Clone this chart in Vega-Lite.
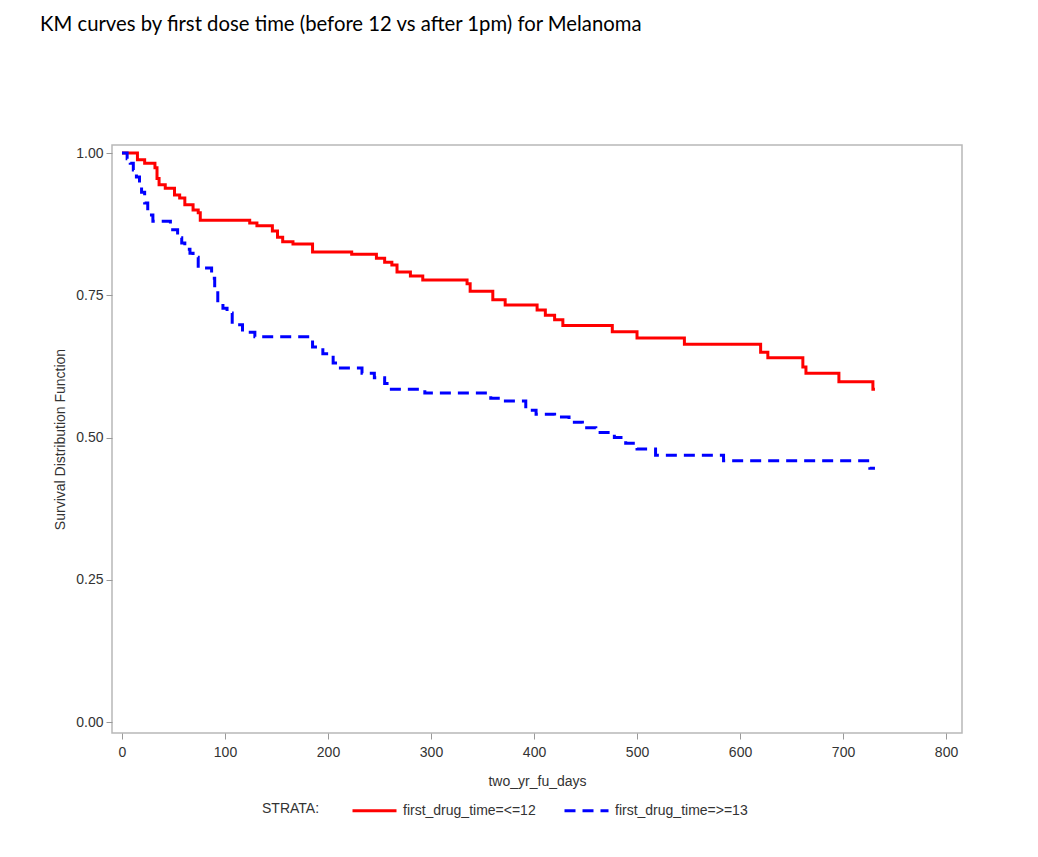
{
  "$schema": "https://vega.github.io/schema/vega-lite/v6.json",
  "width": 850,
  "height": 588,
  "autosize": {"type": "none"},
  "padding": {"left": 112, "top": 145, "right": 76, "bottom": 124},
  "background": "white",
  "title": {
    "text": "KM curves by first dose time (before 12 vs after 1pm) for Melanoma",
    "anchor": "start",
    "frame": "group",
    "dx": -72,
    "offset": 110,
    "font": "Lato",
    "fontSize": 20.3,
    "fontWeight": "normal",
    "color": "#000000"
  },
  "config": {
    "view": {"stroke": "#b8b8b8", "strokeWidth": 1.5},
    "axis": {
      "labelFont": "Liberation Sans",
      "titleFont": "Liberation Sans",
      "labelFontSize": 14,
      "titleFontSize": 14,
      "labelColor": "#333333",
      "titleColor": "#333333",
      "titleFontWeight": "normal",
      "tickColor": "#999999",
      "domain": false,
      "grid": false,
      "tickSize": 6
    },
    "legend": {
      "labelFont": "Liberation Sans",
      "titleFont": "Liberation Sans",
      "labelFontSize": 14,
      "titleFontSize": 14,
      "titleFontWeight": "normal",
      "labelColor": "#333333",
      "titleColor": "#333333"
    }
  },
  "data": {
    "values": [
      {"strata": "first_drug_time=<=12", "days": 0, "surv": 1.0},
      {"strata": "first_drug_time=<=12", "days": 15, "surv": 0.988},
      {"strata": "first_drug_time=<=12", "days": 22, "surv": 0.982},
      {"strata": "first_drug_time=<=12", "days": 32, "surv": 0.974},
      {"strata": "first_drug_time=<=12", "days": 34, "surv": 0.955},
      {"strata": "first_drug_time=<=12", "days": 36, "surv": 0.944},
      {"strata": "first_drug_time=<=12", "days": 42, "surv": 0.938},
      {"strata": "first_drug_time=<=12", "days": 51, "surv": 0.926},
      {"strata": "first_drug_time=<=12", "days": 56, "surv": 0.921},
      {"strata": "first_drug_time=<=12", "days": 61, "surv": 0.909},
      {"strata": "first_drug_time=<=12", "days": 69, "surv": 0.9},
      {"strata": "first_drug_time=<=12", "days": 74, "surv": 0.895},
      {"strata": "first_drug_time=<=12", "days": 76, "surv": 0.882},
      {"strata": "first_drug_time=<=12", "days": 124, "surv": 0.877},
      {"strata": "first_drug_time=<=12", "days": 131, "surv": 0.872},
      {"strata": "first_drug_time=<=12", "days": 146, "surv": 0.863},
      {"strata": "first_drug_time=<=12", "days": 151, "surv": 0.852},
      {"strata": "first_drug_time=<=12", "days": 156, "surv": 0.844},
      {"strata": "first_drug_time=<=12", "days": 166, "surv": 0.84},
      {"strata": "first_drug_time=<=12", "days": 185, "surv": 0.826},
      {"strata": "first_drug_time=<=12", "days": 223, "surv": 0.822},
      {"strata": "first_drug_time=<=12", "days": 247, "surv": 0.815},
      {"strata": "first_drug_time=<=12", "days": 255, "surv": 0.808},
      {"strata": "first_drug_time=<=12", "days": 262, "surv": 0.803},
      {"strata": "first_drug_time=<=12", "days": 267, "surv": 0.791},
      {"strata": "first_drug_time=<=12", "days": 280, "surv": 0.784},
      {"strata": "first_drug_time=<=12", "days": 292, "surv": 0.777},
      {"strata": "first_drug_time=<=12", "days": 335, "surv": 0.77},
      {"strata": "first_drug_time=<=12", "days": 338, "surv": 0.757},
      {"strata": "first_drug_time=<=12", "days": 360, "surv": 0.742},
      {"strata": "first_drug_time=<=12", "days": 372, "surv": 0.733},
      {"strata": "first_drug_time=<=12", "days": 403, "surv": 0.724},
      {"strata": "first_drug_time=<=12", "days": 411, "surv": 0.715},
      {"strata": "first_drug_time=<=12", "days": 420, "surv": 0.707},
      {"strata": "first_drug_time=<=12", "days": 428, "surv": 0.697},
      {"strata": "first_drug_time=<=12", "days": 476, "surv": 0.686},
      {"strata": "first_drug_time=<=12", "days": 500, "surv": 0.675},
      {"strata": "first_drug_time=<=12", "days": 546, "surv": 0.664},
      {"strata": "first_drug_time=<=12", "days": 620, "surv": 0.65},
      {"strata": "first_drug_time=<=12", "days": 627, "surv": 0.64},
      {"strata": "first_drug_time=<=12", "days": 661, "surv": 0.624},
      {"strata": "first_drug_time=<=12", "days": 664, "surv": 0.613},
      {"strata": "first_drug_time=<=12", "days": 696, "surv": 0.598},
      {"strata": "first_drug_time=<=12", "days": 729, "surv": 0.585},
      {"strata": "first_drug_time=<=12", "days": 731, "surv": 0.585},
      {"strata": "first_drug_time=>=13", "days": 0, "surv": 1.0},
      {"strata": "first_drug_time=>=13", "days": 5, "surv": 0.99},
      {"strata": "first_drug_time=>=13", "days": 8, "surv": 0.982},
      {"strata": "first_drug_time=>=13", "days": 11, "surv": 0.97},
      {"strata": "first_drug_time=>=13", "days": 14, "surv": 0.958},
      {"strata": "first_drug_time=>=13", "days": 17, "surv": 0.945},
      {"strata": "first_drug_time=>=13", "days": 19, "surv": 0.931},
      {"strata": "first_drug_time=>=13", "days": 22, "surv": 0.912},
      {"strata": "first_drug_time=>=13", "days": 25, "surv": 0.891},
      {"strata": "first_drug_time=>=13", "days": 30, "surv": 0.88},
      {"strata": "first_drug_time=>=13", "days": 47, "surv": 0.865},
      {"strata": "first_drug_time=>=13", "days": 54, "surv": 0.851},
      {"strata": "first_drug_time=>=13", "days": 58, "surv": 0.842},
      {"strata": "first_drug_time=>=13", "days": 61, "surv": 0.831},
      {"strata": "first_drug_time=>=13", "days": 66, "surv": 0.824},
      {"strata": "first_drug_time=>=13", "days": 69, "surv": 0.817},
      {"strata": "first_drug_time=>=13", "days": 74, "surv": 0.798},
      {"strata": "first_drug_time=>=13", "days": 87, "surv": 0.78},
      {"strata": "first_drug_time=>=13", "days": 90, "surv": 0.759},
      {"strata": "first_drug_time=>=13", "days": 93, "surv": 0.736},
      {"strata": "first_drug_time=>=13", "days": 98, "surv": 0.727},
      {"strata": "first_drug_time=>=13", "days": 102, "surv": 0.719},
      {"strata": "first_drug_time=>=13", "days": 107, "surv": 0.698},
      {"strata": "first_drug_time=>=13", "days": 117, "surv": 0.685},
      {"strata": "first_drug_time=>=13", "days": 129, "surv": 0.677},
      {"strata": "first_drug_time=>=13", "days": 185, "surv": 0.659},
      {"strata": "first_drug_time=>=13", "days": 195, "surv": 0.647},
      {"strata": "first_drug_time=>=13", "days": 205, "surv": 0.631},
      {"strata": "first_drug_time=>=13", "days": 210, "surv": 0.622},
      {"strata": "first_drug_time=>=13", "days": 233, "surv": 0.613},
      {"strata": "first_drug_time=>=13", "days": 245, "surv": 0.605},
      {"strata": "first_drug_time=>=13", "days": 255, "surv": 0.595},
      {"strata": "first_drug_time=>=13", "days": 259, "surv": 0.585},
      {"strata": "first_drug_time=>=13", "days": 294, "surv": 0.578},
      {"strata": "first_drug_time=>=13", "days": 358, "surv": 0.569},
      {"strata": "first_drug_time=>=13", "days": 368, "surv": 0.564},
      {"strata": "first_drug_time=>=13", "days": 392, "surv": 0.548},
      {"strata": "first_drug_time=>=13", "days": 402, "surv": 0.541},
      {"strata": "first_drug_time=>=13", "days": 420, "surv": 0.536},
      {"strata": "first_drug_time=>=13", "days": 434, "surv": 0.527},
      {"strata": "first_drug_time=>=13", "days": 447, "surv": 0.517},
      {"strata": "first_drug_time=>=13", "days": 460, "surv": 0.509},
      {"strata": "first_drug_time=>=13", "days": 478, "surv": 0.5},
      {"strata": "first_drug_time=>=13", "days": 489, "surv": 0.49},
      {"strata": "first_drug_time=>=13", "days": 500, "surv": 0.48},
      {"strata": "first_drug_time=>=13", "days": 518, "surv": 0.469},
      {"strata": "first_drug_time=>=13", "days": 584, "surv": 0.459},
      {"strata": "first_drug_time=>=13", "days": 726, "surv": 0.446},
      {"strata": "first_drug_time=>=13", "days": 731, "surv": 0.446}
    ]
  },
  "mark": {"type": "line", "interpolate": "step-after", "strokeWidth": 3},
  "encoding": {
    "x": {
      "field": "days",
      "type": "quantitative",
      "title": "two_yr_fu_days",
      "scale": {"domain": [-9.7, 815.5], "nice": false, "zero": false},
      "axis": {"values": [0, 100, 200, 300, 400, 500, 600, 700, 800], "labelPadding": 6, "titlePadding": 15}
    },
    "y": {
      "field": "surv",
      "type": "quantitative",
      "title": "Survival Distribution Function",
      "scale": {"domain": [-0.01933, 1.01406], "nice": false, "zero": false},
      "axis": {"values": [0, 0.25, 0.5, 0.75, 1], "format": ".2f", "labelPadding": 3, "titlePadding": 8}
    },
    "color": {
      "field": "strata",
      "type": "nominal",
      "title": "STRATA:",
      "scale": {"domain": ["first_drug_time=<=12", "first_drug_time=>=13"], "range": ["#ff0000", "#0000ff"]},
      "legend": {
        "orient": "none",
        "legendX": 150,
        "legendY": 642,
        "direction": "horizontal",
        "titleOrient": "left",
        "titleBaseline": "top",
        "titlePadding": 31,
        "symbolType": "M-1,0H1",
        "symbolSize": 1936,
        "symbolStrokeWidth": 3,
        "columnPadding": 22,
        "labelOffset": 5
      }
    },
    "strokeDash": {
      "field": "strata",
      "type": "nominal",
      "title": "STRATA:",
      "scale": {"domain": ["first_drug_time=<=12", "first_drug_time=>=13"], "range": [[1, 0], [11, 7]]}
    }
  }
}
